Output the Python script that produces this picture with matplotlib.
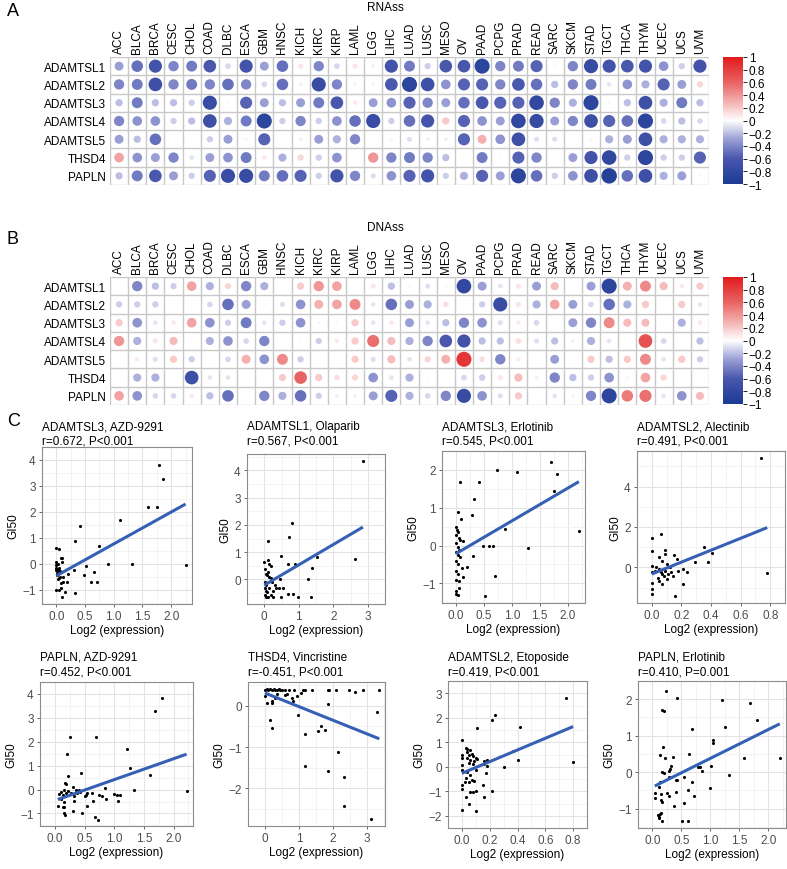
import numpy as np
import matplotlib
matplotlib.use('Agg')
import matplotlib.pyplot as plt
from matplotlib.colors import LinearSegmentedColormap, Normalize
from matplotlib.cm import ScalarMappable

plt.rcParams['font.family'] = ['Liberation Sans', 'DejaVu Sans']

W, H, DPI = 787, 870, 100

cancers = ['ACC', 'BLCA', 'BRCA', 'CESC', 'CHOL', 'COAD', 'DLBC', 'ESCA', 'GBM', 'HNSC', 'KICH',
           'KIRC', 'KIRP', 'LAML', 'LGG', 'LIHC', 'LUAD', 'LUSC', 'MESO', 'OV', 'PAAD', 'PCPG',
           'PRAD', 'READ', 'SARC', 'SKCM', 'STAD', 'TGCT', 'THCA', 'THYM', 'UCEC', 'UCS', 'UVM']
genes = ['ADAMTSL1', 'ADAMTSL2', 'ADAMTSL3', 'ADAMTSL4', 'ADAMTSL5', 'THSD4', 'PAPLN']

# correlation with RNAss
rna_L1 = [-0.3, -0.5, -0.65, -0.4, -0.45, -0.6, -0.12, -0.65, -0.3, -0.5, 0.1, -0.4, -0.12, 0.1, -0.05, -0.65,
          -0.45, -0.15, -0.6, -0.6, -0.85, -0.4, -0.45, -0.55, -0.03, -0.4, -0.75, -0.65, -0.6, -0.65, -0.35, -0.15, -0.65]
rna_L2 = [-0.4, -0.45, -0.7, -0.4, -0.45, -0.4, -0.5, -0.4, -0.12, -0.5, -0.05, -0.75, -0.4, 0.05, 0.05, -0.6,
          -0.85, -0.7, -0.35, -0.55, -0.55, -0.4, -0.6, -0.5, -0.2, -0.4, -0.45, -0.08, -0.35, -0.25, -0.55, -0.3, 0.15]
rna_L3 = [-0.2, -0.45, -0.2, -0.2, -0.15, -0.75, -0.02, -0.55, -0.3, -0.2, -0.3, -0.45, -0.6, 0.08, -0.3, -0.35,
          -0.55, -0.4, -0.3, -0.5, -0.6, -0.55, -0.55, -0.8, -0.4, -0.25, -0.85, -0.03, -0.2, -0.7, -0.25, -0.45, -0.2]
rna_L4 = [-0.4, -0.35, -0.35, -0.15, -0.2, -0.7, -0.25, -0.45, -0.85, -0.15, -0.4, -0.15, -0.35, -0.5, -0.75, -0.15,
          -0.5, -0.65, 0.2, -0.55, -0.35, -0.3, -0.8, -0.75, -0.3, -0.4, -0.7, -0.55, -0.5, -0.85, -0.12, -0.2, -0.12]
rna_L5 = [-0.3, -0.2, -0.5, -0.02, 0.0, -0.15, -0.3, 0.05, -0.55, 0.03, -0.05, -0.3, -0.25, -0.4, 0.0, 0.05,
          -0.1, -0.05, -0.05, -0.55, 0.3, -0.35, -0.7, -0.1, -0.1, -0.02, 0.05, -0.25, -0.3, -0.7, -0.25, -0.25, -0.25]
rna_THSD4 = [0.35, -0.35, -0.3, -0.4, -0.08, -0.3, -0.35, -0.45, 0.08, -0.25, 0.15, -0.15, -0.35, 0.0, 0.4, -0.4,
             -0.45, -0.4, -0.2, -0.02, -0.45, -0.02, -0.55, -0.4, -0.02, -0.3, -0.65, -0.8, -0.15, -0.85, -0.15, -0.15, -0.55]
rna_PAPLN = [-0.2, -0.45, -0.6, -0.3, -0.15, -0.55, -0.75, -0.75, -0.45, -0.5, -0.55, -0.15, -0.65, -0.4, -0.1, -0.35,
             -0.55, -0.65, -0.15, -0.25, -0.55, -0.3, -0.85, -0.5, -0.15, -0.35, -0.7, -0.9, -0.5, -0.7, -0.25, -0.3, -0.03]

# correlation with DNAss
dna_L1 = [0.02, -0.4, -0.2, -0.15, 0.35, -0.25, 0.15, -0.4, -0.25, -0.02, 0.2, 0.4, 0.35, 0.02, 0.1, -0.2,
          -0.03, -0.1, -0.03, -0.8, -0.3, -0.08, 0.1, -0.3, 0.25, -0.02, -0.3, -0.85, 0.3, 0.45, 0.25, 0.08, 0.2]
dna_L2 = [-0.15, -0.15, -0.15, -0.02, -0.02, -0.12, -0.5, -0.3, -0.03, -0.1, -0.35, 0.3, 0.35, 0.45, -0.08, -0.5,
          -0.3, -0.25, 0.12, -0.02, -0.15, -0.75, 0.1, -0.25, 0.35, -0.3, -0.12, -0.5, -0.25, 0.2, 0.0, 0.2, -0.08]
dna_L3 = [0.2, -0.35, -0.08, 0.08, 0.35, -0.35, -0.15, -0.45, -0.08, -0.15, -0.35, -0.03, -0.03, 0.2, -0.08, 0.08,
          -0.3, -0.08, -0.2, -0.4, -0.35, -0.1, 0.08, -0.12, 0.0, -0.3, -0.4, 0.45, 0.25, 0.25, -0.02, -0.25, 0.08]
dna_L4 = [0.4, -0.25, 0.1, 0.25, -0.02, -0.25, -0.35, -0.12, -0.4, 0.0, -0.02, -0.15, 0.08, 0.2, 0.55, 0.25,
          -0.25, -0.4, -0.6, -0.65, -0.2, -0.2, 0.12, -0.1, -0.2, -0.05, -0.25, -0.08, 0.0, 0.7, -0.12, -0.02, -0.2]
dna_L5 = [0.0, 0.08, -0.1, 0.2, -0.15, -0.02, -0.12, 0.3, -0.35, 0.45, -0.15, -0.02, -0.02, 0.2, -0.1, 0.25,
          -0.08, 0.15, 0.3, 0.85, 0.12, -0.4, 0.08, -0.02, -0.3, -0.02, 0.2, -0.2, 0.2, 0.45, -0.08, 0.2, -0.15]
dna_THSD4 = [-0.02, -0.25, -0.25, -0.02, -0.7, -0.08, -0.08, -0.02, -0.02, 0.2, 0.6, 0.2, 0.12, 0.15, -0.35, -0.08,
             -0.25, -0.02, -0.02, -0.12, -0.15, 0.1, 0.25, -0.05, -0.4, -0.2, -0.15, -0.35, 0.05, 0.35, 0.15, 0.0, 0.0]
dna_PAPLN = [0.35, -0.35, -0.12, -0.12, 0.08, -0.2, -0.5, -0.02, -0.4, -0.25, -0.5, -0.15, -0.05, -0.05, -0.3, -0.55,
             -0.25, -0.12, -0.4, -0.75, -0.35, -0.1, 0.2, 0.0, -0.08, 0.05, -0.4, -0.85, 0.5, 0.55, -0.08, -0.35, 0.25]

rna = np.array([rna_L1, rna_L2, rna_L3, rna_L4, rna_L5, rna_THSD4, rna_PAPLN])
dna = np.array([dna_L1, dna_L2, dna_L3, dna_L4, dna_L5, dna_THSD4, dna_PAPLN])

# drug sensitivity scatter data (expression vs GI50)
x1 = [0.0, 0.0, 0.0, 0.0, 0.01, 0.01, 0.02, 0.02, 0.03, 0.03, 0.04, 0.02, 0.05, 0.06, 0.07, 0.08, 0.08, 0.1, 0.1,
      0.12, 0.0, 0.05, 0.0, 0.05, 0.08, 0.09, 0.12, 0.15, 0.18, 0.2, 0.3, 0.32, 0.32, 0.42, 0.48, 0.52, 0.6, 0.66,
      0.7, 0.75, 0.9, 1.1, 1.31, 1.6, 1.75, 1.79, 1.85, 2.25]
y1 = [0.05, -0.05, -0.15, -0.25, -0.35, -0.45, -0.2, -0.3, 0.0, -0.4, -0.55, -0.6, -0.15, -0.3, -0.5, -0.75, 0.2,
      0.22, 0.08, -0.5, 0.6, 0.55, -1.0, -1.0, -0.95, -1.3, -0.7, -1.1, -0.7, -0.38, -0.25, -1.15, 0.88, 1.45,
      -0.42, -0.1, -0.72, -0.32, -0.72, 0.67, -0.03, 1.7, -0.03, 2.18, 2.17, 3.8, 3.28, -0.05]

x2 = [2.86, 0.79, 0.72, 0.1, 0.49, 1.54, 0.7, 0.89, 1.39, 2.62, 1.26, 0.47, 0.43, 0.55, 0.68, 0.83, 0.98, 0.49,
      1.36, 0.26, 0.0, 0.1, 0.15, 0.19, 0.02, 0.11, 0.04, 0.08, 0.15, 0.19, 0.02, 0.04, 0.02, 0.05, 0.02, 0.04,
      0.11, 0.19, 0.26, 0.34, 0.3, 0.23, 0.15, 0.08]
y2 = [4.35, 2.08, 1.55, 1.4, 0.87, 0.81, 0.55, 0.55, 0.42, 0.75, 0.0, 0.0, -0.3, -0.3, -0.52, -0.52, -0.65, -0.65,
      -0.65, -0.65, 0.65, 0.7, 0.57, 0.5, 0.4, 0.27, 0.21, 0.15, 0.1, 0.04, -0.08, -0.2, -0.32, -0.44, -0.56, -0.65,
      -0.65, -0.56, -0.44, -0.32, -0.2, -0.08, -0.32, -0.46]

x3 = [1.71, 0.74, 1.09, 1.8, 0.08, 0.42, 1.75, 0.32, 0.28, 0.03, 0.09, 0.88, 2.2, 0.49, 0.59, 0.66, 1.29, 0.31,
      0.7, 0.19, 0.13, 0.52, 0.0, 0.03, 0.05, 0.0, 0.0, 0.01, 0.04, 0.0, 0.05, 0.08, 0.12, 0.0, 0.03, 0.06, 0.0,
      0.04, 0.08, 0.0, 0.04, 0.1, 0.0, 0.03, 0.0, 0.05]
y3 = [2.22, 2.01, 1.95, 1.88, 1.69, 1.69, 1.43, 1.24, 0.8, 0.89, 0.7, 0.43, 0.38, 0.0, -0.01, -0.01, -0.07, -0.27,
      -0.81, -0.56, -0.84, -1.34, -1.19, -1.31, -1.12, -1.28, 0.5, 0.41, 0.37, 0.28, 0.19, 0.15, 0.12, 0.06, -0.03,
      -0.11, -0.18, -0.24, -0.31, -0.42, -0.5, -0.59, -0.68, -0.75, -0.9, -0.94]

x4 = [0.74, 0.78, 0.06, 0.0, 0.0, 0.35, 0.41, 0.29, 0.38, 0.09, 0.09, 0.15, 0.17, 0.0, 0.0, 0.0, 0.0, 0.0, 0.16,
      0.21, 0.21, 0.24, 0.18, 0.03, 0.05, 0.06, 0.07, 0.08, 0.04, 0.05, 0.07, 0.1, 0.11, 0.13, 0.1, 0.07, 0.05,
      0.12, 0.02, 0.09, 0.14]
y4 = [5.42, -0.28, 1.67, 1.45, 0.83, 1.03, 0.7, 0.28, 0.25, 0.88, 0.67, 0.62, 0.42, 0.08, -0.25, -0.75, -1.08,
      -1.33, -1.42, -0.83, -0.08, -0.25, -0.17, 0.0, -0.08, -0.25, -0.33, -0.42, -0.5, -0.67, -0.8, -0.58, -0.33,
      -0.25, 0.17, 0.33, 0.5, 0.0, -0.17, -0.17, -0.42]

x5 = [1.81, 1.69, 0.25, 0.7, 0.2, 1.22, 1.27, 1.61, 1.33, 2.22, 0.44, 0.22, 0.17, 0.19, 0.3, 0.36, 0.41, 0.38,
      0.32, 0.33, 0.27, 0.23, 0.15, 0.1, 0.07, 0.13, 0.18, 0.1, 0.15, 0.05, 0.13, 0.16, 0.15, 0.17, 0.31, 0.45,
      0.55, 0.53, 0.63, 0.64, 0.55, 0.68, 0.72, 0.75, 0.79, 0.85, 0.86, 1.0, 1.05, 1.09, 1.07, 0.43, 0.5]
y5 = [3.82, 3.28, 2.18, 2.18, 1.47, 1.71, 0.9, 0.6, 0.0, -0.04, 0.68, 0.56, 0.26, 0.23, 0.1, 0.0, -0.03, -0.15,
      -0.28, -0.47, -0.15, -0.05, -0.03, -0.09, -0.18, -0.24, -0.15, -0.41, -0.54, -0.69, -0.71, -0.73, -1.0,
      -1.06, -0.91, -0.99, -0.15, -0.22, -0.13, -0.47, -0.69, -1.14, -1.27, -0.22, -0.28, 0.06, -0.41, -0.19,
      -0.22, -0.24, -0.47, -0.09, -0.28]

x6 = [0.0, 0.05, 0.1, 0.15, 0.2, 0.25, 0.3, 0.35, 0.4, 0.45, 0.5, 0.6, 0.7, 0.85, 1.06, 1.13, 1.18, 1.39,
      1.84, 1.89, 2.1, 2.46, 2.65, 2.88, 3.36, 0.0, 0.06, 0.2, 0.29, 0.36, 0.6, 0.65, 0.78, 0.83, 0.94, 0.98, 1.85,
      0.15, 0.22, 0.2, 1.19, 1.65, 1.57, 1.76, 2.14, 1.17, 1.85, 2.33, 2.33, 3.13, 3.28]
y6 = [0.38, 0.4, 0.38, 0.42, 0.38, 0.4, 0.38, 0.38, 0.4, 0.38, 0.38, 0.38, 0.38, 0.38, 0.32, 0.38, 0.38, 0.38,
      0.38, 0.38, 0.38, 0.38, 0.34, 0.38, 0.38, 0.24, 0.06, 0.12, 0.2, 0.29, 0.26, 0.29, 0.18, 0.12, 0.24, -0.22,
      0.04, -0.34, 0.06, -0.54, -0.68, -0.48, -0.62, -0.58, -1.13, -1.46, -1.58, -1.74, -2.44, -2.76, -0.14]

x7 = [0.75, 0.8, 0.24, 0.22, 0.42, 0.11, 0.37, 0.4, 0.3, 0.22, 0.16, 0.15, 0.17, 0.18, 0.16, 0.18, 0.16, 0.1,
      0.0, 0.0, 0.0, 0.0, 0.0, 0.0, 0.0, 0.0, 0.03, 0.05, 0.08, 0.06, 0.1, 0.03, 0.04, 0.06, 0.04, 0.07, 0.05,
      0.08, 0.04, 0.06, 0.09, 0.05, 0.08, 0.1, 0.04, 0.06, 0.03, 0.07, 0.05, 0.09, 0.02, 0.11, 0.1]
y7 = [2.79, 0.21, 2.1, 1.9, 1.64, 1.58, 0.64, 0.29, -0.02, -0.97, -1.23, -0.74, -0.26, 0.02, 0.23, 0.29, 0.12,
      -1.82, -1.78, 1.11, 0.49, 0.35, 0.08, -0.15, -0.76, -0.9, -1.23, -1.5, -1.05, -1.05, -0.99, 0.78, 0.73,
      0.67, 0.59, 0.53, 0.47, 0.45, 0.37, 0.29, 0.23, 0.15, 0.12, -0.14, -0.23, -0.35, -0.47, -0.55, -0.61,
      -0.58, -0.64, 0.33, 0.37]

x8 = [0.24, 0.42, 1.2, 1.69, 0.17, 0.2, 1.81, 0.69, 1.25, 1.05, 1.05, 0.19, 0.13, 0.21, 0.36, 0.63, 1.58, 2.2,
      1.02, 0.78, 0.83, 0.86, 1.32, 0.32, 0.3, 0.28, 0.17, 0.2, 0.28, 0.4, 0.42, 0.54, 0.68, 0.25, 0.29, 0.41,
      0.38, 0.54, 0.62, 0.71, 0.99, 0.51, 0.62, 0.04, 0.04, 0.12, 0.13, 0.15, 0.15, 0.16, 0.09, 0.12, 0.15, 0.16,
      0.11, 0.13]
y8 = [2.23, 2.04, 1.97, 1.9, 1.71, 1.69, 1.44, 1.18, 1.25, 0.89, 0.8, 0.7, 0.47, 0.4, 0.42, 0.51, 0.4, 0.4,
      0.18, 0.13, 0.13, 0.04, -0.07, 0.16, 0.09, 0.03, 0.0, -0.02, -0.13, -0.2, -0.2, -0.13, -0.26, -0.56, -0.66,
      -0.54, -0.93, -0.85, -0.49, -0.65, -0.43, -1.33, -1.33, -0.58, -0.7, -0.4, -0.27, -0.6, -0.76, -0.81,
      -1.17, -1.22, -1.13, -1.35, -1.26, -1.15]

panels = [
    ('ADAMTSL3, AZD-9291', 'r=0.672, P<0.001', x1, y1, [0, 0.5, 1, 1.5, 2], [-1, 0, 1, 2, 3, 4], 1),
    ('ADAMTSL1, Olaparib', 'r=0.567, P<0.001', x2, y2, [0, 1, 2, 3], [0, 1, 2, 3, 4], 0),
    ('ADAMTSL3, Erlotinib', 'r=0.545, P<0.001', x3, y3, [0, 0.5, 1, 1.5, 2], [-1, 0, 1, 2], 1),
    ('ADAMTSL2, Alectinib', 'r=0.491, P<0.001', x4, y4, [0, 0.2, 0.4, 0.6, 0.8], [0, 2, 4], 1),
    ('PAPLN, AZD-9291', 'r=0.452, P<0.001', x5, y5, [0, 0.5, 1, 1.5, 2], [-1, 0, 1, 2, 3, 4], 1),
    ('THSD4, Vincristine', 'r=-0.451, P<0.001', x6, y6, [0, 1, 2, 3], [-2, -1, 0], 0),
    ('ADAMTSL2, Etoposide', 'r=0.419, P<0.001', x7, y7, [0, 0.2, 0.4, 0.6, 0.8], [-2, -1, 0, 1, 2, 3], 1),
    ('PAPLN, Erlotinib', 'r=0.410, P=0.001', x8, y8, [0, 0.5, 1, 1.5, 2], [-1, 0, 1, 2], 1),
]

# panel boxes in pixels: left, top, right, bottom
boxes = [(42, 448, 192, 605), (247, 455, 385, 605), (442, 452, 585, 604), (637, 452, 785, 604),
         (40, 683, 193, 827), (248, 683, 385, 827), (448, 682, 587, 829), (638, 682, 786, 829)]
title_rows = [(427, 442), (658, 673)]

cmap = LinearSegmentedColormap.from_list('corr', [
    (0.0, '#1b3a93'), (0.2, '#4957ad'), (0.35, '#9a9fd5'), (0.5, '#ffffff'),
    (0.65, '#f4b0b0'), (0.8, '#e86363'), (1.0, '#e31a1c')])
norm = Normalize(-1, 1)


def fig_axes(fig, l, t, r, b):
    return fig.add_axes([l / W, 1 - b / H, (r - l) / W, (b - t) / H])


def minus(s):
    return s.replace('-', '\u2212')


def corr_plot(fig, vals, top, title):
    ny, nx = vals.shape
    ax = fig_axes(fig, 110, top, 709, top + 128)
    cell = 599 / nx
    xs, ys = np.meshgrid(np.arange(nx), np.arange(ny))
    diam_pt = 0.9 * cell * np.sqrt(np.abs(vals)) * 72 / DPI
    ax.scatter(xs.ravel(), ys.ravel(), s=(diam_pt ** 2).ravel(), c=vals.ravel(),
               cmap=cmap, norm=norm, edgecolors='none', zorder=3)
    for i in range(nx + 1):
        ax.axvline(i - 0.5, color='#c8c8c8', lw=1.0, zorder=1)
    for j in range(ny + 1):
        ax.axhline(j - 0.5, color='#c8c8c8', lw=1.0, zorder=1)
    ax.set_xlim(-0.5, nx - 0.5)
    ax.set_ylim(ny - 0.5, -0.5)
    ax.set_xticks(range(nx))
    ax.set_xticklabels(cancers, rotation=90, fontsize=8.5)
    ax.xaxis.tick_top()
    ax.set_yticks(range(ny))
    ax.set_yticklabels(genes, fontsize=8.5)
    ax.tick_params(length=0, pad=3)
    for s in ax.spines.values():
        s.set_visible(False)
    fig.text(385 / W, 1 - (top - 50) / H, title, fontsize=8.5, ha='center', va='center')

    cax = fig_axes(fig, 723, top, 743, top + 127)
    ticks = np.round(np.arange(-1, 1.01, 0.2), 1)
    cb = fig.colorbar(ScalarMappable(norm=norm, cmap=cmap), cax=cax, ticks=ticks)
    cb.set_ticklabels([minus('%g' % (0 if abs(t) < 1e-9 else t)) for t in ticks])
    cb.outline.set_visible(False)
    cax.tick_params(labelsize=8.5, length=3, width=0.6, pad=1)


def scatter_panel(fig, box, trow, p):
    t1, t2, xs, ys, xt, yt, dec = p
    xs = np.array(xs)
    ys = np.array(ys)
    ax = fig_axes(fig, *box)
    ax.scatter(xs, ys, s=5, c='black', linewidths=0, zorder=3)
    slope, icpt = np.polyfit(xs, ys, 1)
    xx = np.array([xs.min(), xs.max()])
    ax.plot(xx, icpt + slope * xx, color='#3660b5', lw=2.2, zorder=4, solid_capstyle='butt')
    ax.margins(0.05)
    ax.set_xticks(xt)
    ax.set_xticklabels([minus(('%.1f' % v) if dec else ('%g' % v)) for v in xt])
    ax.set_yticks(yt)
    ax.set_yticklabels([minus('%g' % v) for v in yt])
    sx = xt[1] - xt[0]
    sy = yt[1] - yt[0]
    ax.set_xticks(np.arange(xt[0] - sx / 2, xt[-1] + sx, sx), minor=True)
    ax.set_yticks(np.arange(yt[0] - sy / 2, yt[-1] + sy, sy), minor=True)
    ax.grid(which='major', color='#e3e3e3', lw=0.8, zorder=0)
    ax.grid(which='minor', color='#efefef', lw=0.5, zorder=0)
    ax.set_axisbelow(True)
    ax.tick_params(which='major', labelsize=8.5, labelcolor='#4d4d4d', color='#4d4d4d',
                   length=2.5, width=0.6, pad=2)
    ax.tick_params(which='minor', length=0)
    for s in ax.spines.values():
        s.set_color('#8c8c8c')
        s.set_linewidth(0.8)
    ax.set_xlabel('Log2 (expression)', fontsize=8.5, labelpad=1)
    ax.set_ylabel('GI50', fontsize=8.5, labelpad=2)
    fig.text(box[0] / W, 1 - trow[0] / H, t1, fontsize=8.5, va='center', ha='left')
    fig.text(box[0] / W, 1 - trow[1] / H, t2, fontsize=8.5, va='center', ha='left')


fig = plt.figure(figsize=(W / DPI, H / DPI), dpi=DPI)

corr_plot(fig, rna, 58, 'RNAss')
corr_plot(fig, dna, 278, 'DNAss')

for i, p in enumerate(panels):
    scatter_panel(fig, boxes[i], title_rows[i // 4], p)

fig.text(7 / W, 1 - 12 / H, 'A', fontsize=13, va='center')
fig.text(7 / W, 1 - 240 / H, 'B', fontsize=13, va='center')
fig.text(7 / W, 1 - 422 / H, 'C', fontsize=13, va='center')

fig.savefig('out.png', dpi=DPI)
